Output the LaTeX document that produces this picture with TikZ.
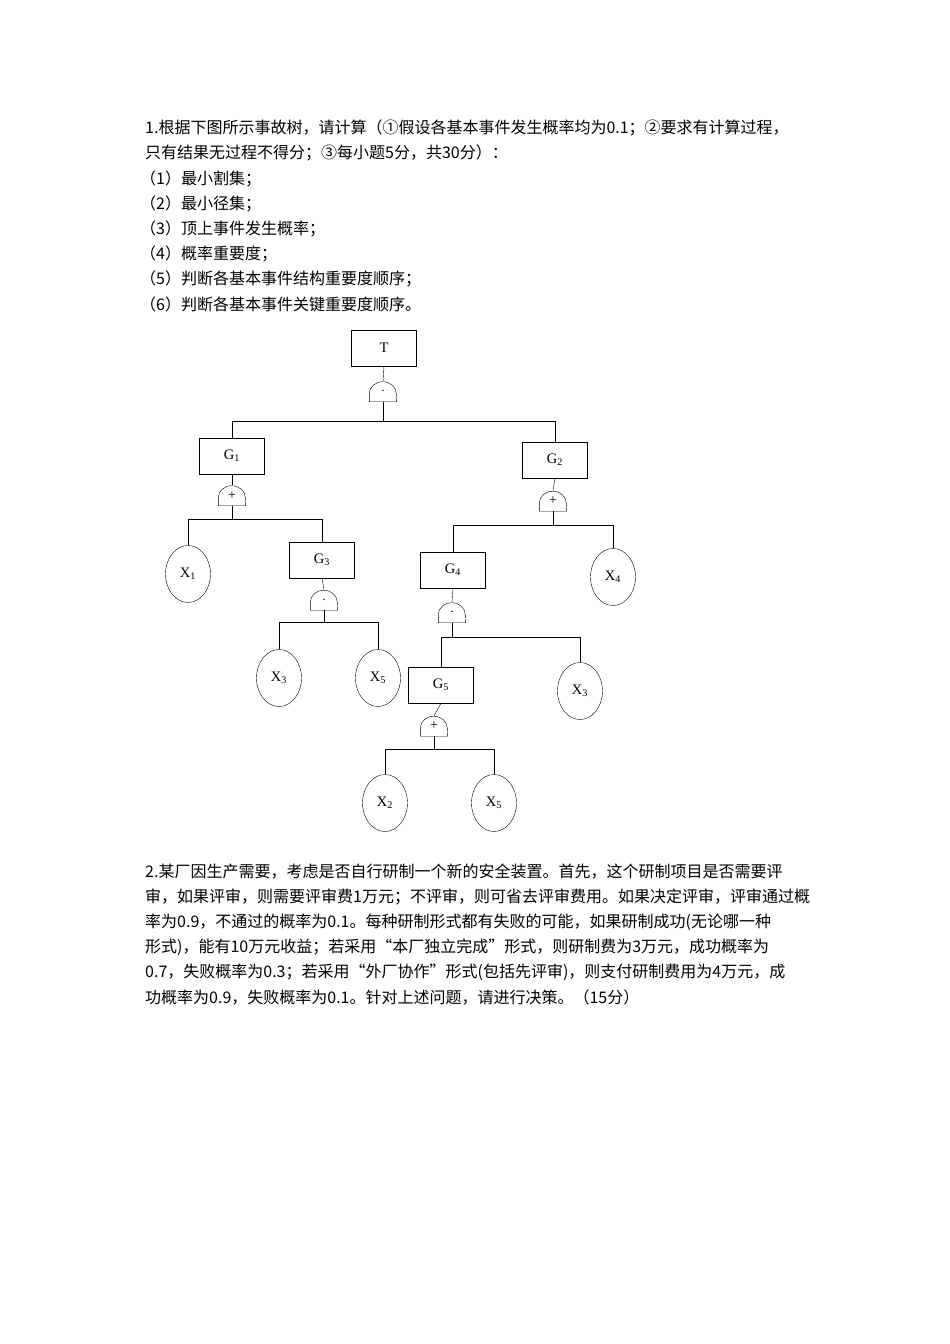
\documentclass[tikz,border=0pt]{standalone}
\usepackage{fontspec}
\setmainfont{Liberation Serif}
\newfontfamily\cjk{Noto Sans CJK SC}
\usetikzlibrary{shapes.geometric}

\tikzset{
    event/.style={draw,minimum width=65pt,minimum height=36pt,inner sep=0pt,font=\fontsize{14.5}{14.5}\selectfont},
    basic/.style={draw,ellipse,minimum width=45pt,minimum height=57pt,inner sep=0pt,font=\fontsize{14.5}{14.5}\selectfont},
    gatebox/.style={minimum width=27pt,minimum height=20pt,inner sep=0pt,font=\fontsize{14}{14}\selectfont},
    txtline/.style={anchor=west,inner sep=0pt,font=\cjk\fontsize{16}{16}\selectfont}
}
% gate: flat bottom, rounded top
\newcommand{\gate}[3]{%
    \node[gatebox] (#1) at (#2) {#3};
    \draw (#1.south west) -- ++(0pt,8pt) arc[start angle=180,end angle=0,x radius=13.5pt,y radius=12pt] -- (#1.south east) -- cycle;}

\begin{document}
\begin{tikzpicture}[x=1pt,y=-1pt]
    \useasboundingbox (0,0) rectangle (950,1344);

    %% question 1
    \node[txtline] (q1a) at (145,128) {1.根据下图所示事故树，请计算（①假设各基本事件发生概率均为0.1；②要求有计算过程，};
    \node[txtline] (q1b) at (145,153) {只有结果无过程不得分；③每小题5分，共30分）：};
    \node[txtline] (q1c) at (140,179) {（1）最小割集；};
    \node[txtline] (q1d) at (140,204) {（2）最小径集；};
    \node[txtline] (q1e) at (140,229) {（3）顶上事件发生概率；};
    \node[txtline] (q1f) at (140,254) {（4）概率重要度；};
    \node[txtline] (q1g) at (140,279) {（5）判断各基本事件结构重要度顺序；};
    \node[txtline] (q1h) at (140,304) {（6）判断各基本事件关键重要度顺序。};

    %% fault tree
    \node[event] (T) at (384,348) {T};
    \gate{gT}{383,391.5}{$\cdot$}
    \node[event] (G1) at (232,456) {G\textsubscript{1}};
    \node[event] (G2) at (555,460) {G\textsubscript{2}};
    \gate{g1}{232,495.5}{+}
    \gate{g2}{553,501}{+}
    \node[basic] (X1) at (188,574) {X\textsubscript{1}};
    \node[event] (G3) at (322,560) {G\textsubscript{3}};
    \gate{g3}{324,600}{$\cdot$}
    \node[basic] (X3a) at (279,678) {X\textsubscript{3}};
    \node[basic] (X5a) at (378,678) {X\textsubscript{5}};
    \node[event] (G4) at (453,570) {G\textsubscript{4}};
    \node[basic] (X4) at (613,577) {X\textsubscript{4}};
    \gate{g4}{452,612.5}{$\cdot$}
    \node[event] (G5) at (441,685) {G\textsubscript{5}};
    \node[basic] (X3b) at (580,691) {X\textsubscript{3}};
    \gate{g5}{434,726}{+}
    \node[basic] (X2) at (385,803) {X\textsubscript{2}};
    \node[basic] (X5b) at (494,803) {X\textsubscript{5}};

    \draw (T.south) -- (gT.north);
    \draw (gT.south) -- ++(0,19) coordinate (bT);
    \draw (G1.north) |- (bT -| G1.north) -- (bT -| G2.north) -- (G2.north);
    \draw (G1.south) -- (g1.north);
    \draw (g1.south) -- ++(0,13) coordinate (b1);
    \draw (X1.north) |- (b1) -| (G3.north);
    \draw (G3.south) -- (g3.north);
    \draw (g3.south) -- ++(0,12) coordinate (b3);
    \draw (X3a.north) |- (b3) -| (X5a.north);
    \draw (G2.south) -- (g2.north);
    \draw (g2.south) -- ++(0,14) coordinate (b2);
    \draw (G4.north) |- (b2) -| (X4.north);
    \draw (G4.south) -- (g4.north);
    \draw (g4.south) -- ++(0,14) coordinate (b4);
    \draw (G5.north) |- (b4) -| (X3b.north);
    \draw (G5.south) -- (g5.north);
    \draw (g5.south) -- ++(0,13) coordinate (b5);
    \draw (X2.north) |- (b5) -| (X5b.north);

    %% question 2
    \node[txtline] (q2a) at (145,872) {2.某厂因生产需要，考虑是否自行研制一个新的安全装置。首先，这个研制项目是否需要评};
    \node[txtline] (q2b) at (145,897) {审，如果评审，则需要评审费1万元；不评审，则可省去评审费用。如果决定评审，评审通过概};
    \node[txtline] (q2c) at (145,922) {率为0.9，不通过的概率为0.1。每种研制形式都有失败的可能，如果研制成功(无论哪一种};
    \node[txtline] (q2d) at (145,947) {形式)，能有10万元收益；若采用“本厂独立完成”形式，则研制费为3万元，成功概率为};
    \node[txtline] (q2e) at (145,972) {0.7，失败概率为0.3；若采用“外厂协作”形式(包括先评审)，则支付研制费用为4万元，成};
    \node[txtline] (q2f) at (145,997) {功概率为0.9，失败概率为0.1。针对上述问题，请进行决策。（15分）};
\end{tikzpicture}
\end{document}
